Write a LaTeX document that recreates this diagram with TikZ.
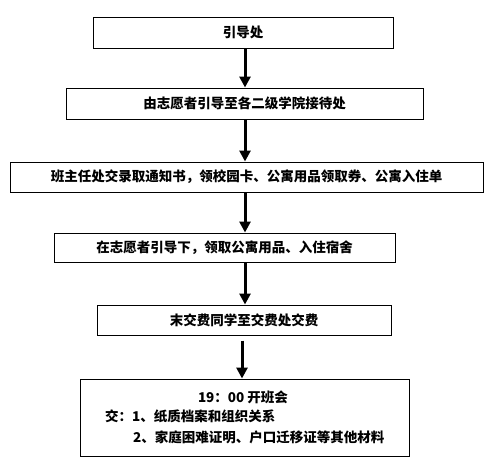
\documentclass[tikz,border=0pt]{standalone}
\usepackage{fontspec}
\usepackage{tikz}
\usetikzlibrary{arrows.meta,positioning}
\newfontfamily\cjk{Noto Sans CJK SC}

\tikzset{
    stepbox/.style={draw, line width=1pt, inner sep=0pt,
        font=\cjk\bfseries\fontsize{13.5}{16}\selectfont},
    steptext/.style={inner sep=0pt, font=\cjk\bfseries\fontsize{13.5}{16}\selectfont},
    flow/.style={line width=3pt, -{Triangle[length=11pt,width=11pt]}}
}

\begin{document}
\begin{tikzpicture}[x=1pt,y=-1pt]
                        \useasboundingbox (0,0) rectangle (494,466);
                        \node[stepbox, minimum width=300, minimum height=31] (b1) at (243, 32.5) {引导处};
                        \node[stepbox, minimum width=357, minimum height=31] (b2) at (244.5, 103.5) {由志愿者引导至各二级学院接待处};
                        \node[stepbox, minimum width=473, minimum height=30] (b3) at (246.5, 177) {班主任处交录取通知书，领校园卡、公寓用品领取券、公寓入住单};
                        \node[stepbox, minimum width=341, minimum height=29] (b4) at (224.5, 247.5) {在志愿者引导下，领取公寓用品、入住宿舍};
                        \node[stepbox, minimum width=294, minimum height=30] (b5) at (244, 320) {末交费同学至交费处交费};
                        \node[stepbox, minimum width=329, minimum height=77] (b6) at (244.5, 417.5) {};
                        \node[steptext] (t1) at (243, 397) {19：00 开班会};
                        \node[steptext, anchor=west] (t2) at (105, 416) {交：1、纸质档案和组织关系};
                        \node[steptext, anchor=west] (t3) at (133, 437) {2、家庭困难证明、户口迁移证等其他材料};

                        \coordinate (ax) at (245, 0);
                        \coordinate (bx) at (242, 0);

                        \draw[flow] (b1.south -| ax) -- (b2.north -| ax);
                        \draw[flow] (b2.south -| ax) -- (b3.north -| ax);
                        \draw[flow] (b3.south -| ax) -- (b4.north -| ax);
                        \draw[flow] (b4.south -| ax) -- (b5.north -| ax);
                        \draw[flow] ([yshift=-5pt]b5.south -| bx) -- (b6.north -| bx);
                    \end{tikzpicture}
\end{document}
